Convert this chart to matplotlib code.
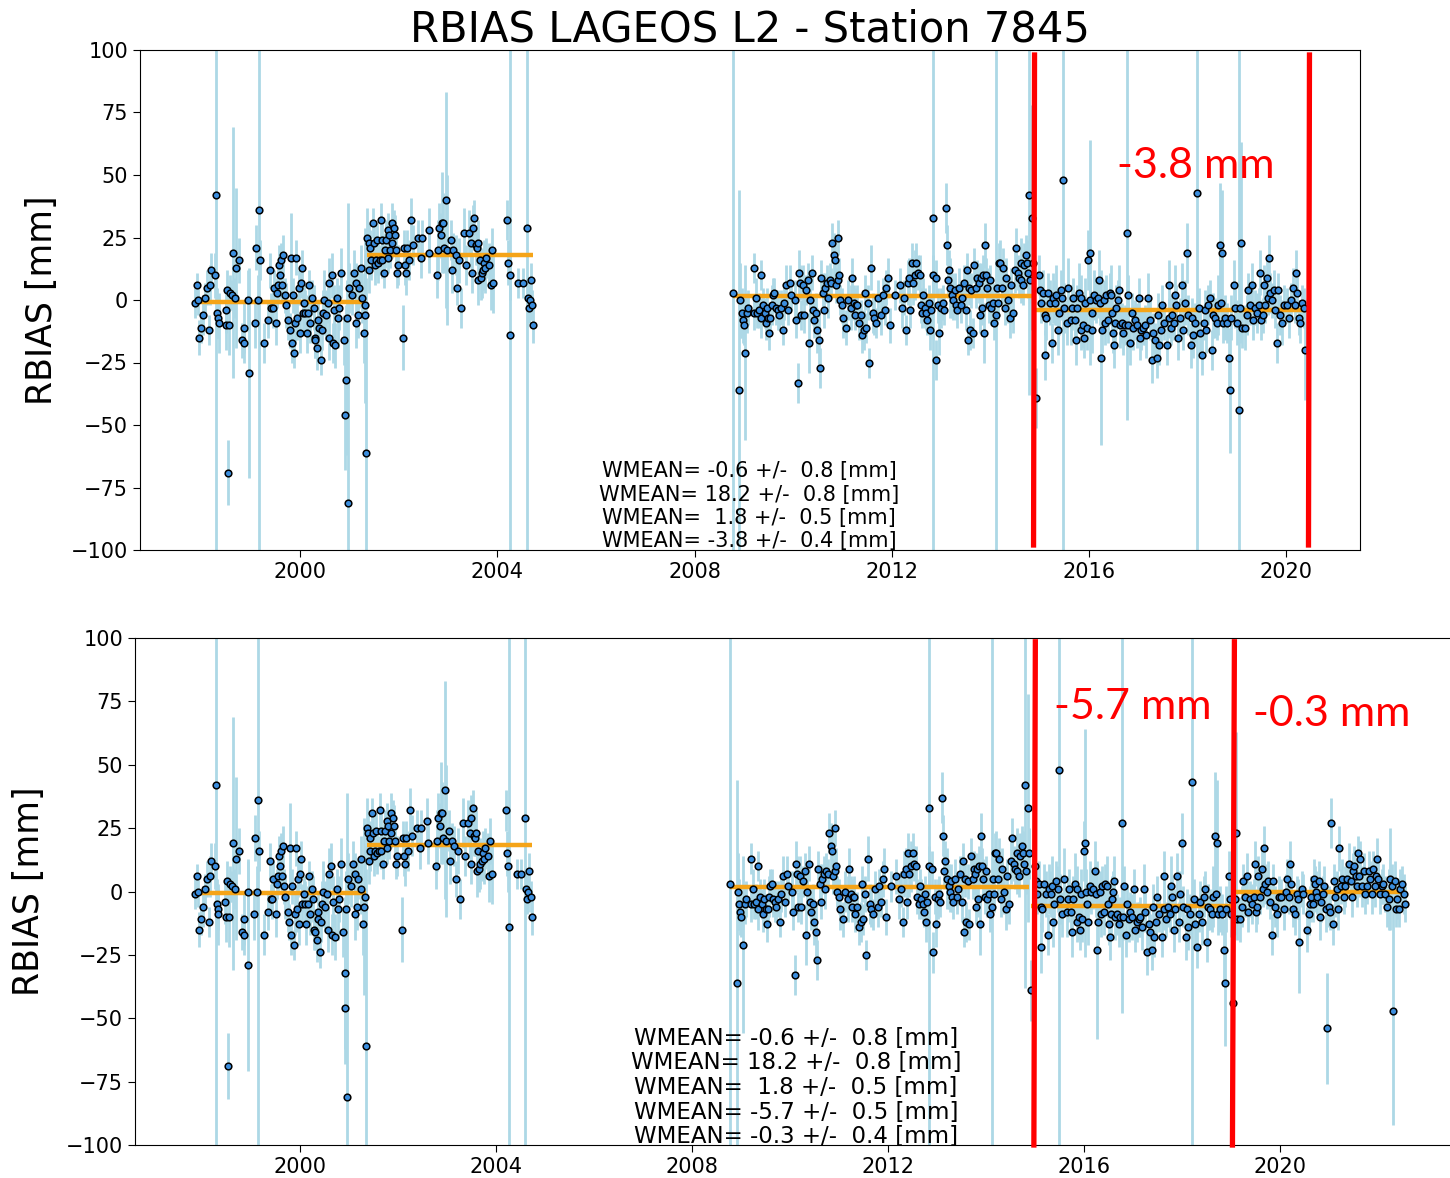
import numpy as np
import matplotlib
matplotlib.use('agg')
import matplotlib.pyplot as plt

# (decimal year, rbias [mm], sigma [mm]), per bias segment
seg_a = [(1997.87, -1, 6), (1997.90, 6, 5), (1997.93, 0, 6), (1997.95, -15, 7), (1997.99, -11, 6), (1998.03, -6, 8),
         (1998.07, 1, 6), (1998.10, 5, 7), (1998.14, -12, 6), (1998.17, 6, 8), (1998.19, 12, 7), (1998.26, 10, 9),
         (1998.29, 42, 200), (1998.31, -5, 10), (1998.33, -7, 8), (1998.34, -9, 12), (1998.48, -4, 9), (1998.49, -10, 10),
         (1998.51, 4, 8), (1998.53, -69, 13), (1998.56, -10, 12), (1998.58, 3, 7), (1998.61, 2, 6), (1998.64, 19, 50),
         (1998.68, 1, 8), (1998.69, 13, 32), (1998.76, 16, 9), (1998.81, -16, 7), (1998.85, -17, 8), (1998.86, -11, 10),
         (1998.94, 0, 12), (1998.95, -29, 42), (1999.07, -9, 10), (1999.09, 21, 9), (1999.13, 0, 10), (1999.15, 36, 200),
         (1999.17, 16, 8), (1999.26, -17, 8), (1999.34, -8, 7), (1999.39, 12, 7), (1999.41, -3, 6), (1999.44, -3, 8),
         (1999.46, 5, 7), (1999.51, -9, 9), (1999.53, 3, 6), (1999.55, 6, 7), (1999.57, 14, 8), (1999.59, 10, 9),
         (1999.61, 16, 7), (1999.63, 6, 6), (1999.65, 18, 8), (1999.68, 2, 7), (1999.70, -2, 9), (1999.75, -8, 8),
         (1999.78, -12, 7), (1999.80, 17, 18), (1999.82, -17, 8), (1999.84, 2, 7), (1999.87, -21, 6), (1999.90, -9, 8),
         (1999.92, 17, 7), (1999.94, -7, 9), (1999.97, 5, 7), (1999.99, -13, 8), (2000.01, 7, 6), (2000.03, 13, 7),
         (2000.05, -5, 8), (2000.08, -1, 7), (2000.10, -5, 9), (2000.13, -13, 8), (2000.16, -5, 7), (2000.18, 6, 6),
         (2000.20, -9, 8), (2000.24, 1, 7), (2000.27, -3, 9), (2000.29, -15, 8), (2000.30, -16, 7), (2000.34, -19, 9),
         (2000.36, -8, 8), (2000.37, -11, 7), (2000.41, -24, 6), (2000.43, -12, 8), (2000.45, -5, 9), (2000.47, 0, 12),
         (2000.51, -6, 10), (2000.56, -1, 8), (2000.58, -15, 9), (2000.59, 7, 10), (2000.64, 10, 9), (2000.66, -17, 8),
         (2000.68, -4, 10), (2000.71, -18, 9), (2000.75, 1, 8), (2000.77, -7, 12), (2000.79, -3, 9), (2000.83, 11, 10),
         (2000.88, -16, 10), (2000.91, -46, 22), (2000.93, -32, 30), (2000.95, -7, 15), (2000.97, -81, 120),
         (2000.98, 5, 10), (2001.05, 2, 8), (2001.08, 11, 9), (2001.12, -9, 10), (2001.13, 7, 8), (2001.16, -6, 9),
         (2001.19, 5, 8), (2001.24, 13, 9), (2001.25, 1, 10), (2001.29, -13, 12), (2001.31, -6, 35), (2001.32, -2, 20),
         (2001.34, -61, 70)]

seg_b = [(2001.36, 25, 12), (2001.39, 23, 8), (2001.40, 12, 9), (2001.42, 21, 7), (2001.44, 16, 8), (2001.47, 31, 6),
         (2001.49, 23, 7), (2001.51, 14, 8), (2001.54, 16, 6), (2001.56, 24, 7), (2001.58, 15, 8), (2001.61, 16, 6),
         (2001.63, 32, 7), (2001.65, 24, 8), (2001.66, 16, 7), (2001.69, 11, 6), (2001.71, 20, 7), (2001.74, 24, 8),
         (2001.77, 17, 6), (2001.78, 28, 7), (2001.80, 26, 6), (2001.82, 20, 7), (2001.85, 31, 8), (2001.86, 23, 6),
         (2001.89, 29, 7), (2001.92, 26, 8), (2001.94, 20, 7), (2001.96, 11, 6), (2001.99, 14, 8), (2002.08, -15, 13),
         (2002.10, 21, 7), (2002.13, 14, 8), (2002.15, 11, 9), (2002.17, 21, 7), (2002.20, 16, 8), (2002.24, 32, 9),
         (2002.28, 22, 8), (2002.39, 25, 7), (2002.45, 17, 8), (2002.46, 25, 7), (2002.60, 28, 9), (2002.61, 19, 8),
         (2002.78, 10, 9), (2002.80, 20, 12), (2002.81, 29, 10), (2002.85, 26, 9), (2002.88, 31, 20), (2002.90, 31, 12),
         (2002.92, 21, 10), (2002.96, 40, 43), (2002.98, 20, 30), (2003.05, 24, 8), (2003.07, 12, 9), (2003.10, 20, 7),
         (2003.15, 18, 8), (2003.18, 5, 7), (2003.22, 16, 9), (2003.26, -3, 8), (2003.33, 27, 10), (2003.37, 14, 8),
         (2003.42, 27, 9), (2003.46, 23, 10), (2003.49, 11, 8), (2003.50, 29, 9), (2003.53, 33, 7), (2003.56, 22, 8),
         (2003.58, 21, 7), (2003.60, 23, 9), (2003.61, 8, 10), (2003.64, 16, 8), (2003.66, 9, 9), (2003.68, 11, 10),
         (2003.71, 12, 8), (2003.73, 15, 9), (2003.75, 13, 10), (2003.77, 17, 8), (2003.83, 14, 9), (2003.86, 6, 10),
         (2003.88, 20, 9), (2003.91, 7, 12), (2004.20, 32, 8), (2004.22, 15, 9), (2004.25, 10, 10), (2004.26, -14, 200),
         (2004.42, 7, 6), (2004.51, 7, 6), (2004.59, 29, 200), (2004.61, 1, 7), (2004.64, -3, 6), (2004.65, 0, 8),
         (2004.68, 8, 7), (2004.71, -2, 6), (2004.73, -10, 7)]

seg_c = [(2008.77, 3, 200), (2008.91, -36, 80), (2008.93, 0, 15), (2008.96, -5, 10), (2008.98, -8, 9), (2009.00, -10, 8),
         (2009.03, -21, 35), (2009.07, -5, 8), (2009.09, -3, 7), (2009.20, 13, 6), (2009.21, -5, 7), (2009.25, 1, 8),
         (2009.27, -5, 6), (2009.30, -4, 7), (2009.34, 10, 6), (2009.35, -7, 8), (2009.38, -2, 7), (2009.42, -5, 6),
         (2009.45, -9, 7), (2009.47, -3, 8), (2009.50, -7, 6), (2009.52, -13, 7), (2009.54, -7, 6), (2009.57, -2, 8),
         (2009.59, 2, 7), (2009.62, 3, 6), (2009.65, -3, 7), (2009.69, -4, 8), (2009.72, -6, 6), (2009.76, -3, 7),
         (2009.79, -12, 6), (2009.82, -1, 7), (2009.86, 6, 8), (2009.89, -4, 6), (2009.93, 7, 7), (2009.96, 2, 6),
         (2010.03, 0, 8), (2010.06, -8, 7), (2010.10, -33, 8), (2010.12, 11, 9), (2010.14, 7, 7), (2010.16, -6, 6),
         (2010.20, 6, 8), (2010.23, -6, 7), (2010.26, 4, 6), (2010.30, 8, 7), (2010.33, -17, 12), (2010.35, 0, 8),
         (2010.38, 11, 7), (2010.40, -4, 6), (2010.43, -8, 7), (2010.47, -5, 8), (2010.49, -12, 9), (2010.52, -16, 12),
         (2010.54, -27, 8), (2010.57, 9, 7), (2010.60, 3, 8), (2010.62, -4, 7), (2010.65, 5, 6), (2010.68, 7, 7),
         (2010.71, 1, 8), (2010.74, 8, 7), (2010.77, 7, 6), (2010.79, 23, 8), (2010.83, 18, 9), (2010.86, 16, 8),
         (2010.87, 6, 7), (2010.91, 25, 7), (2010.92, 8, 8), (2010.94, 10, 7), (2010.96, 0, 6), (2010.99, -2, 7),
         (2011.01, -7, 8), (2011.08, -11, 7), (2011.11, 0, 8), (2011.18, -3, 9), (2011.20, 9, 8), (2011.23, -1, 7),
         (2011.26, -6, 6), (2011.28, -2, 7), (2011.30, -2, 8), (2011.33, -9, 7), (2011.37, -6, 6), (2011.40, -14, 7),
         (2011.44, -12, 8), (2011.46, 3, 7), (2011.48, -11, 6), (2011.52, -1, 7), (2011.55, -25, 6), (2011.59, 13, 9),
         (2011.62, -5, 8), (2011.65, -7, 7), (2011.69, -9, 6), (2011.72, 1, 7), (2011.79, -6, 8), (2011.82, 2, 7),
         (2011.86, -4, 6), (2011.89, 5, 7), (2011.92, 9, 8), (2011.96, -10, 7), (2012.06, 2, 6), (2012.16, 6, 7),
         (2012.21, -3, 8), (2012.26, 1, 7), (2012.30, -12, 6), (2012.33, 7, 9), (2012.36, 9, 8), (2012.38, -4, 7),
         (2012.41, 15, 8), (2012.43, 7, 9), (2012.47, 10, 10), (2012.50, 15, 8), (2012.53, 11, 7), (2012.57, 10, 8),
         (2012.59, -2, 7), (2012.62, -5, 6), (2012.64, 2, 7), (2012.67, -3, 8), (2012.70, -5, 7), (2012.72, -8, 6),
         (2012.75, -1, 7), (2012.77, -12, 8), (2012.80, -4, 7), (2012.83, 33, 200), (2012.84, 10, 8), (2012.89, 9, 7),
         (2012.91, -24, 8), (2012.95, -2, 7), (2012.97, -13, 9), (2013.01, -3, 8), (2013.04, -1, 7), (2013.06, -4, 6),
         (2013.10, 37, 10), (2013.12, 22, 8), (2013.14, 8, 7), (2013.16, 12, 8), (2013.19, 5, 12), (2013.23, 2, 9),
         (2013.25, 0, 8), (2013.28, 4, 7), (2013.31, -2, 6), (2013.33, -4, 7), (2013.36, 5, 8), (2013.40, -2, 7),
         (2013.43, 1, 6), (2013.47, 7, 7), (2013.50, -4, 8), (2013.52, 12, 7), (2013.54, -16, 6), (2013.56, 5, 7),
         (2013.58, -12, 8), (2013.62, 4, 7), (2013.65, -13, 6), (2013.68, 14, 7), (2013.72, 5, 8), (2013.74, 9, 7),
         (2013.77, 7, 8), (2013.79, -6, 7), (2013.81, 9, 6), (2013.84, -3, 7), (2013.86, 10, 8), (2013.88, -13, 12),
         (2013.89, 22, 9), (2013.92, 10, 7), (2013.94, 5, 8), (2013.97, -2, 7), (2014.00, 8, 6), (2014.02, -3, 7),
         (2014.06, -1, 8), (2014.08, -9, 7), (2014.11, -6, 200), (2014.13, 5, 8), (2014.16, -1, 7), (2014.17, 15, 8),
         (2014.20, 15, 9), (2014.23, 5, 7), (2014.26, 13, 8), (2014.30, -3, 7), (2014.33, 9, 8), (2014.36, 0, 9),
         (2014.40, -7, 8), (2014.43, 6, 7), (2014.47, -5, 8), (2014.50, 12, 9), (2014.53, 21, 8), (2014.57, 11, 7),
         (2014.59, 9, 8), (2014.62, 8, 9), (2014.63, 15, 10), (2014.67, 6, 8), (2014.69, 14, 9), (2014.72, 18, 8),
         (2014.74, 15, 9), (2014.77, 11, 10), (2014.79, 42, 80), (2014.80, 8, 9), (2014.84, 33, 45), (2014.87, 15, 10)]

seg_d = [(2014.92, -39, 12), (2014.99, 10, 8), (2015.01, 4, 7), (2015.03, -1, 8), (2015.07, 3, 9), (2015.11, -6, 8),
         (2015.12, -22, 10), (2015.14, -7, 9), (2015.18, 3, 8), (2015.21, -1, 9), (2015.26, -17, 8), (2015.28, 1, 10),
         (2015.31, -1, 9), (2015.33, 2, 12), (2015.37, -12, 10), (2015.39, -5, 9), (2015.43, 4, 8), (2015.46, 1, 9),
         (2015.48, 48, 200), (2015.50, -3, 10), (2015.55, -9, 9), (2015.58, 5, 12), (2015.64, -8, 10), (2015.66, -3, 9),
         (2015.68, 1, 8), (2015.72, -8, 9), (2015.75, -16, 10), (2015.77, -3, 9), (2015.80, 3, 12), (2015.84, 1, 9),
         (2015.85, -12, 8), (2015.89, -10, 9), (2015.91, -15, 8), (2015.93, -1, 10), (2015.96, -11, 9), (2015.99, 16, 12),
         (2016.02, 19, 45), (2016.03, 0, 9), (2016.06, -5, 8), (2016.07, -12, 9), (2016.11, 2, 10), (2016.14, 0, 9),
         (2016.18, 1, 8), (2016.21, 8, 12), (2016.23, -1, 9), (2016.25, -23, 35), (2016.27, -12, 9), (2016.31, 0, 8),
         (2016.34, -9, 9), (2016.36, 2, 8), (2016.40, -8, 9), (2016.43, 3, 8), (2016.46, 2, 12), (2016.48, -5, 9),
         (2016.50, -13, 8), (2016.52, -18, 9), (2016.54, -9, 8), (2016.56, -3, 9), (2016.59, 0, 8), (2016.61, 4, 10),
         (2016.63, -10, 9), (2016.67, -9, 8), (2016.70, -13, 9), (2016.73, -10, 8), (2016.77, 27, 75), (2016.79, -10, 9),
         (2016.80, 2, 8), (2016.84, -17, 9), (2016.87, -5, 8), (2016.90, -11, 9), (2016.94, -8, 8), (2016.97, -10, 9),
         (2017.01, 1, 8), (2017.04, -15, 9), (2017.07, -12, 8), (2017.11, -11, 7), (2017.14, -10, 8), (2017.17, -14, 9),
         (2017.21, 1, 10), (2017.24, -8, 8), (2017.28, -24, 9), (2017.31, -13, 8), (2017.34, -16, 7), (2017.38, -23, 8),
         (2017.40, -6, 9), (2017.42, -18, 8), (2017.47, -12, 7), (2017.49, -2, 8), (2017.53, -9, 7), (2017.58, -18, 8),
         (2017.62, 6, 10), (2017.63, -7, 8), (2017.67, -11, 7), (2017.70, -6, 8), (2017.74, -9, 7), (2017.76, 2, 12),
         (2017.78, -2, 8), (2017.82, -15, 9), (2017.85, -7, 8), (2017.89, 6, 9), (2017.92, -12, 8), (2017.95, -1, 9),
         (2017.99, 19, 12), (2018.02, -6, 8), (2018.08, -18, 9), (2018.10, -7, 8), (2018.12, -14, 9), (2018.16, -9, 8),
         (2018.19, 43, 200), (2018.23, -3, 8), (2018.26, -13, 9), (2018.29, -22, 8), (2018.33, -9, 7), (2018.36, -4, 8),
         (2018.39, -12, 9), (2018.43, -2, 8), (2018.46, 1, 7), (2018.50, -20, 8), (2018.53, -6, 9), (2018.56, -7, 8),
         (2018.60, -9, 7), (2018.63, -2, 12), (2018.66, 22, 25), (2018.68, -1, 9), (2018.71, 19, 25), (2018.73, -9, 8),
         (2018.77, -7, 9), (2018.80, -9, 8), (2018.84, -23, 12), (2018.86, -36, 25), (2018.89, -7, 9), (2018.94, 6, 10),
         (2018.97, -3, 8), (2019.00, -9, 9), (2019.04, -44, 200)]

seg_e = [(2019.07, -3, 9), (2019.09, 23, 40), (2019.12, -11, 8), (2019.17, -11, 9), (2019.21, -6, 8), (2019.24, 4, 7),
         (2019.27, -2, 8), (2019.31, 6, 9), (2019.34, -8, 8), (2019.38, -3, 7), (2019.41, -5, 8), (2019.45, -2, 7),
         (2019.47, 11, 9), (2019.50, -8, 8), (2019.53, -6, 7), (2019.55, 6, 8), (2019.58, -2, 7), (2019.62, 9, 8),
         (2019.64, 1, 7), (2019.66, 17, 9), (2019.68, 3, 8), (2019.72, 0, 7), (2019.75, 4, 8), (2019.78, -4, 7),
         (2019.82, -17, 8), (2019.85, 4, 7), (2019.88, -6, 8), (2019.93, -9, 9), (2019.97, -2, 8), (2020.02, -2, 7),
         (2020.07, -7, 8), (2020.11, 0, 7), (2020.14, 5, 8), (2020.18, -2, 7), (2020.20, 11, 9), (2020.22, 3, 8),
         (2020.26, -7, 7), (2020.29, -9, 8), (2020.33, -1, 7), (2020.36, -3, 8), (2020.38, -20, 20)]

# only in the newer solution (lower panel)
seg_f = [(2020.43, 1, 7), (2020.45, -1, 8), (2020.54, -15, 9), (2020.58, -9, 8), (2020.61, -5, 7), (2020.63, -2, 8),
         (2020.66, -5, 7), (2020.68, 5, 8), (2020.70, 3, 7), (2020.73, 0, 8), (2020.75, -2, 7), (2020.78, 4, 8),
         (2020.81, -10, 9), (2020.83, -4, 8), (2020.86, -1, 7), (2020.89, 2, 8), (2020.92, -7, 9), (2020.95, -54, 22),
         (2020.98, -6, 8), (2021.00, -8, 7), (2021.02, 27, 10), (2021.07, -13, 8), (2021.09, 4, 7), (2021.12, -2, 8),
         (2021.15, 1, 7), (2021.17, -7, 8), (2021.20, 17, 9), (2021.23, 2, 7), (2021.26, 5, 8), (2021.29, -2, 7),
         (2021.32, 2, 8), (2021.36, 5, 7), (2021.39, 11, 8), (2021.43, 4, 7), (2021.45, -2, 8), (2021.47, 8, 7),
         (2021.49, 10, 8), (2021.53, 6, 7), (2021.56, 2, 8), (2021.58, 15, 7), (2021.61, 6, 8), (2021.63, 13, 7),
         (2021.66, 2, 8), (2021.70, 8, 7), (2021.73, -1, 8), (2021.77, 2, 7), (2021.80, 8, 8), (2021.83, 5, 7),
         (2021.87, -1, 8), (2021.88, 9, 7), (2021.92, 2, 8), (2021.95, 6, 7), (2021.97, 13, 8), (2021.99, 5, 7),
         (2022.02, -1, 8), (2022.06, 2, 7), (2022.10, 3, 8), (2022.14, -1, 7), (2022.17, -6, 8), (2022.21, -3, 12),
         (2022.24, 5, 20), (2022.28, 2, 9), (2022.30, -47, 45), (2022.33, 4, 8), (2022.36, -7, 7), (2022.38, -3, 8),
         (2022.41, -7, 7), (2022.44, 1, 8), (2022.48, 3, 7), (2022.51, -1, 8), (2022.53, -5, 7)]

# weighted means per segment
wmean_top = [-0.6, 18.2, 1.8, -3.8]
wsig_top = [0.8, 0.8, 0.5, 0.4]
wmean_bot = [-0.6, 18.2, 1.8, -5.7, -0.3]
wsig_bot = [0.8, 0.8, 0.5, 0.5, 0.4]

# hand-drawn annotations (x top, x bottom of each red line) and labels
red_top = [(2014.90, 2014.88), (2020.48, 2020.46)]
red_bot = [(2015.00, 2014.97), (2019.06, 2019.02)]
lbl_top = [(2016.58, 48.8, '-3.8 mm')]
lbl_bot = [(2015.38, 67.9, '-5.7 mm'), (2019.43, 65.1, '-0.3 mm')]

fs = 15
pt_col = '#3b8ede'
err_col = '#add8e6'
mean_col = '#f5a418'


def plot_panel(ax, groups, means, sigs, red, lbls, red_y, txt_x, txt_y, txt_fs, txt_ls):
    all_t = []
    for grp, m in zip(groups, means):
        t = np.array([p[0] for p in grp])
        v = np.array([p[1] for p in grp])
        s = np.array([p[2] for p in grp])
        all_t.extend(t)
        ax.errorbar(t, v, yerr=s, fmt='none', ecolor=err_col, elinewidth=2.0, capsize=0, zorder=1)
        ax.hlines(m, t[0], t[-1], color=mean_col, lw=3.2, zorder=2)
        ax.plot(t, v, 'o', mfc=pt_col, mec='k', mew=1.1, ms=4.8, zorder=3)

    lo, hi = min(all_t), max(all_t)
    ax.set_xlim(lo - 0.05 * (hi - lo), hi + 0.05 * (hi - lo))
    ax.set_ylim(-100, 100)
    ax.set_yticks(np.arange(-100, 101, 25))
    ax.set_xticks(np.arange(2000, 2021, 4))
    ax.tick_params(labelsize=fs, length=5)

    lines = ["WMEAN=%5.1f +/- %4.1f [mm]" % (m, s) for m, s in zip(means, sigs)]
    ax.text(txt_x, txt_y, "\n".join(lines), ha='center', va='center', fontsize=txt_fs,
            linespacing=txt_ls, zorder=4)

    for xa, xb in red:
        ax.plot([xa, xb], red_y, color='red', lw=3.8, clip_on=False, zorder=5)
    for x, y, s in lbls:
        ax.text(x, y, s, color='red', fontsize=31, family='Lato', ha='left', va='baseline', zorder=5)

    ax.set_ylabel('RBIAS [mm]', fontsize=25)


fig = plt.figure(figsize=(14.5, 11.78), dpi=100)
ax1 = fig.add_axes([140 / 1450, 1 - 550 / 1178, 1220 / 1450, 500 / 1178])
ax2 = fig.add_axes([135 / 1450, 1 - 1145 / 1178, 1330 / 1450, 507 / 1178])

plot_panel(ax1, [seg_a, seg_b, seg_c, seg_d + seg_e], wmean_top, wsig_top, red_top, lbl_top,
           [98, -98], 2009.11, -82.5, 15, 1.2)
plot_panel(ax2, [seg_a, seg_b, seg_c, seg_d, seg_e + seg_f], wmean_bot, wsig_bot, red_bot, lbl_bot,
           [98.5, -100], 2010.12, -77.3, 16.5, 1.09)

ax1.set_title('RBIAS LAGEOS L2 - Station 7845', fontsize=30, pad=6)
ax1.yaxis.set_label_coords(-0.066, 0.5)
ax2.yaxis.set_label_coords(-0.067, 0.5)

fig.savefig('out.png', dpi=100)
